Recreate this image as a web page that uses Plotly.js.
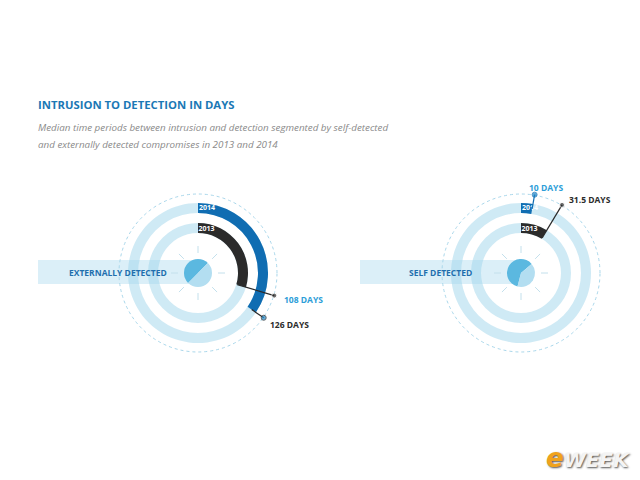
<!DOCTYPE html>
<html>
<head>
<meta charset="utf-8">
<script src="https://cdn.plot.ly/plotly-3.0.1.min.js"></script>
<style>html,body{margin:0;padding:0;background:#fff;}#chart{width:640px;height:480px;}</style>
</head>
<body>
<div id="chart"></div>
<script>
// ---- data ----
const groups = ['EXTERNALLY DETECTED', 'SELF DETECTED'];
const years = ['2013', '2014'];
const days2013 = [108, 31.5];
const days2014 = [126, 10];
const dayLabels2013 = ['108 DAYS', '31.5 DAYS'];
const dayLabels2014 = ['126 DAYS', '10 DAYS'];
const daysInYear = 365;
const title = 'INTRUSION TO DETECTION IN DAYS';
const subtitle1 = 'Median time periods between intrusion and detection segmented by self-detected';
const subtitle2 = 'and externally detected compromises in 2013 and 2014';

// ---- styles / geometry ----
const W = 640, H = 480;
const px = x => x / W;
const py = y => 1 - y / H;
const centers = [[198, 273], [521, 273]];
const R = 100;              // radial range -> pixels
const ring = {'2013': [40, 50], '2014': [60, 70]};
const arcColor = {'2013': '#2b2b2b', '2014': '#106db2'};
const ringColor = 'rgba(160,213,236,0.5)';
const lightBlue = '#2d9ed8';
const dark = '#2b2b2b';
const toDeg = d => d / daysInYear * 360;

const traces = [];
const annotations = [];
const shapes = [];
const layout = {
  width: W, height: H,
  margin: {l: 0, r: 0, t: 0, b: 0},
  paper_bgcolor: '#ffffff',
  showlegend: false,
  font: {family: '"Open Sans", sans-serif'},
};

groups.forEach((g, i) => {
  const sp = i === 0 ? 'polar' : 'polar2';
  const [cx, cy] = centers[i];
  layout[sp] = {
    domain: {x: [px(cx - R), px(cx + R)], y: [py(cy + R), py(cy - R)]},
    bgcolor: 'rgba(0,0,0,0)',
    hole: 0,
    radialaxis: {range: [0, R], showline: false, showticklabels: false, ticks: '',
      tickvals: [79], showgrid: true, gridcolor: '#a9d7eb', griddash: '3px,3px', gridwidth: 1},
    angularaxis: {direction: 'clockwise', rotation: 90, showline: false, showgrid: false,
      showticklabels: false, ticks: ''},
  };
  // horizontal band
  shapes.push({type: 'rect', layer: 'below', xref: 'paper', yref: 'paper',
    x0: px(i === 0 ? 38 : 360), x1: px(cx), y0: py(284), y1: py(260),
    line: {width: 0}, fillcolor: '#dbeff8'});
  annotations.push({xref: 'paper', yref: 'paper', x: px(i === 0 ? 118 : 440), y: py(272),
    text: '<b>' + g + '</b>', showarrow: false, xanchor: 'center', yanchor: 'middle',
    font: {size: 8.5, color: '#1f6fae'}});

  // full light rings
  years.forEach(yr => {
    traces.push({type: 'barpolar', subplot: sp, theta: [180], width: [359.9],
      base: [ring[yr][0]], r: [ring[yr][1] - ring[yr][0]],
      marker: {color: ringColor, line: {width: 0}}, hoverinfo: 'skip'});
  });
  // data arcs
  const vals = {'2013': days2013[i], '2014': days2014[i]};
  years.forEach(yr => {
    const deg = toDeg(vals[yr]);
    traces.push({type: 'barpolar', subplot: sp, theta: [deg / 2], width: [deg],
      base: [ring[yr][0]], r: [ring[yr][1] - ring[yr][0]],
      marker: {color: arcColor[yr], line: {width: 0}}, name: yr + ' ' + g});
  });
  // year labels
  years.forEach(yr => {
    const rm = (ring[yr][0] + ring[yr][1]) / 2;
    traces.push({type: 'scatterpolar', subplot: sp, mode: 'text',
      r: [rm], theta: [yr === '2014' ? 8 : 11], text: ['<b>' + yr + '</b>'],
      textfont: {color: '#ffffff', size: 7}, hoverinfo: 'skip'});
  });
  // leaders
  years.forEach(yr => {
    const deg = toDeg(vals[yr]);
    const r0 = yr === '2013' ? ring[yr][0] + 1 : (ring[yr][0] + ring[yr][1]) / 2;
    const lineCol = (i === 1 && yr === '2014') ? arcColor['2014'] : dark;
    const dotCol = yr === '2014' ? '#1d86c8' : dark;
    traces.push({type: 'scatterpolar', subplot: sp, mode: 'lines+markers',
      r: [r0, 79.5], theta: [deg, deg],
      line: {color: lineCol, width: 1.2},
      marker: {size: [0, 5], color: dotCol}, hoverinfo: 'skip'});
  });
  // centre pie
  const darkTheta = i === 0 ? 315 : 302;
  const darkWidth = i === 0 ? 180 : 215;
  traces.push({type: 'barpolar', subplot: sp, theta: [darkTheta, darkTheta + 180],
    width: [darkWidth, 360 - darkWidth], base: [0, 0], r: [14, 14],
    marker: {color: ['#5bb8e0', '#b3def1'], line: {width: 0}}, hoverinfo: 'skip'});
  // rays
  const rayAngles = [0, 45, 90, 135, 180, 225, 270, 315];
  const rr = [], rt = [];
  rayAngles.forEach(a => { rr.push(20, 27, null); rt.push(a, a, null); });
  traces.push({type: 'scatterpolar', subplot: sp, mode: 'lines', r: rr, theta: rt,
    line: {color: '#c3e0ec', width: 1}, connectgaps: false, hoverinfo: 'skip'});
});

// day labels
annotations.push(
  {x: px(282), y: py(299), text: '<b>' + dayLabels2013[0] + '</b>', font: {size: 8.5, color: lightBlue}},
  {x: px(268), y: py(324), text: '<b>' + dayLabels2014[0] + '</b>', font: {size: 8.5, color: dark}},
  {x: px(527), y: py(187), text: '<b>' + dayLabels2014[1] + '</b>', font: {size: 8.5, color: lightBlue}},
  {x: px(567), y: py(199), text: '<b>' + dayLabels2013[1] + '</b>', font: {size: 8.5, color: dark}}
);
annotations.forEach(a => { if (a.xref === undefined) {
  Object.assign(a, {xref: 'paper', yref: 'paper', showarrow: false, xanchor: 'left', yanchor: 'middle'}); }});

// titles
annotations.push(
  {xref: 'paper', yref: 'paper', x: px(36), y: py(104), xanchor: 'left', yanchor: 'middle', showarrow: false,
   text: '<b>' + title + '</b>', font: {size: 11.3, color: '#1b78b5'}},
  {xref: 'paper', yref: 'paper', x: px(36), y: py(127), xanchor: 'left', yanchor: 'middle', showarrow: false,
   text: '<i>' + subtitle1 + '</i>', font: {size: 9.8, color: '#8a8a8a'}},
  {xref: 'paper', yref: 'paper', x: px(36), y: py(144), xanchor: 'left', yanchor: 'middle', showarrow: false,
   text: '<i>' + subtitle2 + '</i>', font: {size: 9.8, color: '#8a8a8a'}},
  {xref: 'paper', yref: 'paper', x: px(632), y: py(458), xanchor: 'right', yanchor: 'middle', showarrow: false,
   text: '<b><i><span style="color:#f0a21c;font-size:26px">e</span>WEEK</i></b>',
   font: {size: 20, color: '#f4f4f4', family: '"DejaVu Sans", sans-serif', shadow: '1px 1px 2px #555'}}
);

layout.annotations = annotations;
layout.shapes = shapes;
Plotly.newPlot('chart', traces, layout, {staticPlot: true, displayModeBar: false});
</script>
</body>
</html>
